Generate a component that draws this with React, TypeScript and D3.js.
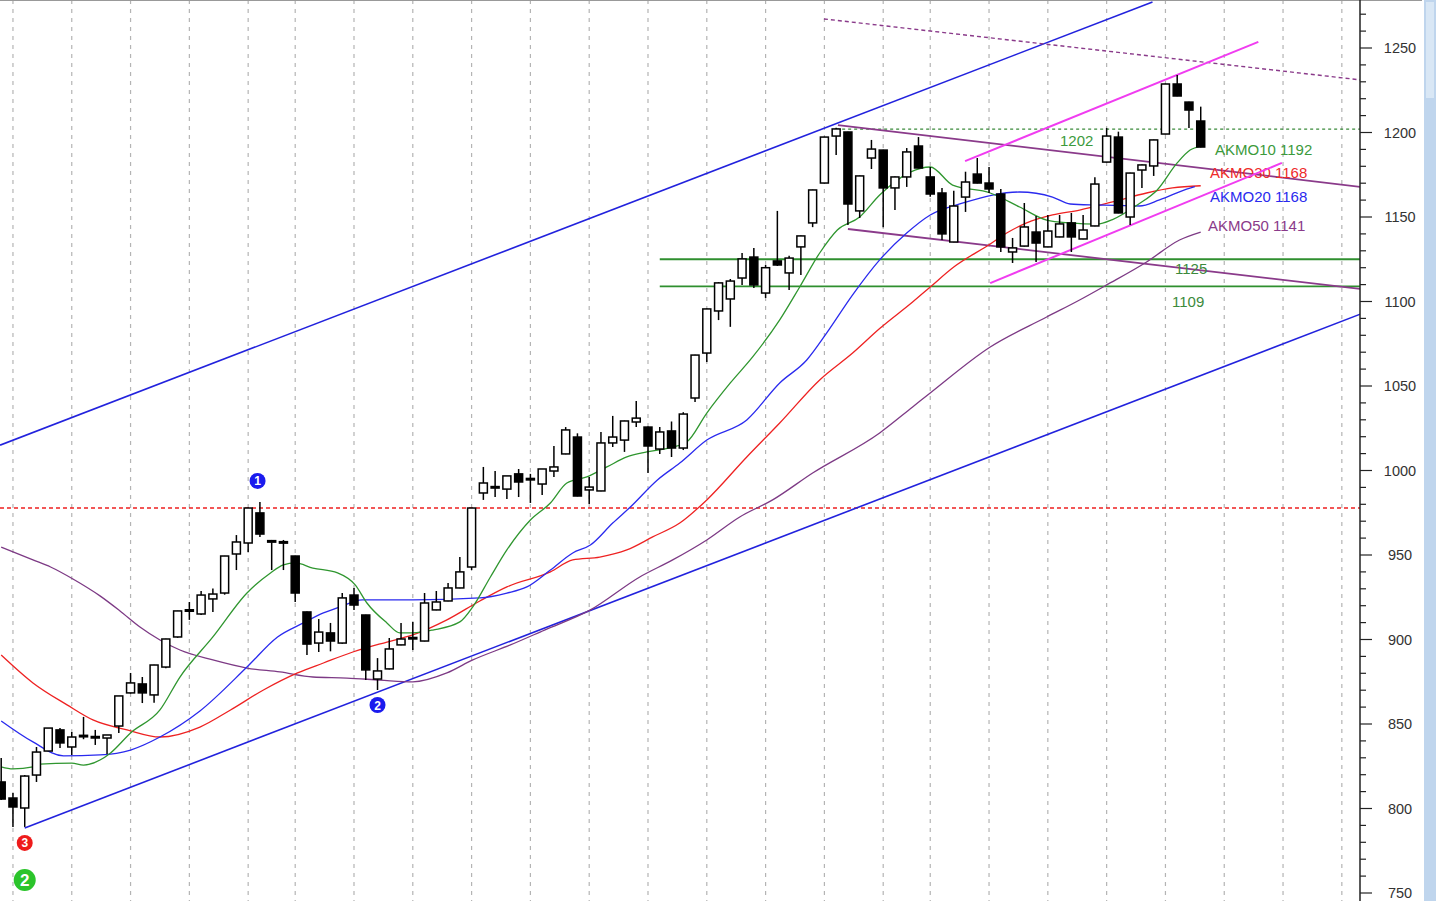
import React from 'react';
import * as d3 from 'd3';

// OHLC (index 0 = left edge candle)
const opens = [815.7,806.2,800.3,819.8,834,846.5,836.4,842.5,842.5,841.7,848.8,868.4,873.7,867.2,883.7,901.5,917.5,915.1,924,927.5,950.6,957.1,974.9,958.3,957.7,949.4,916.3,897.9,903.9,897.9,926.3,914.5,876.6,882.6,896.8,900.9,899.1,917.5,922.8,930.5,942.9,986.7,990.2,989,998,995,992,999.7,1009.8,1019.8,988.5,987.9,1016.3,1018,1028.7,1025.7,1012.7,1023.4,1013.3,1042.9,1069.5,1094.4,1101.5,1113.9,1126.3,1105,1124,1116.9,1132.3,1146.5,1170.1,1197.9,1200.3,1153.6,1184.9,1189.6,1167.2,1173.7,1192,1173.7,1164.2,1135.2,1161.8,1175.4,1170.1,1163.6,1129.3,1132.8,1141.1,1132.3,1138.2,1146.5,1137,1144.7,1182.5,1197.3,1150,1177.8,1180.2,1199.1,1228.7,1218,1206.8];
const highs = [829.9,809.2,819.8,836.4,847.6,847.6,845.3,854.2,846.5,843.5,866.6,880.2,877.8,885,900.5,917,922.2,928.7,930.2,949.5,961.8,978,981.4,958.9,958.9,949.6,916.5,912.1,909.8,927.5,930.5,914.7,889,900.9,909.8,910.4,927.5,928.7,933.4,948.8,977.8,1002.1,999.7,996.8,1000.9,998,1000.9,1014.5,1025.7,1022,996.2,1022.8,1032.3,1029.5,1041.1,1026,1025.7,1029,1034.5,1068.5,1095.8,1111.5,1113.3,1128.7,1131.7,1121.6,1153.6,1127,1139,1166.2,1197.5,1202.8,1200.5,1174.5,1195.6,1189.8,1173.9,1190.8,1197.3,1179.6,1167.2,1165.5,1176.8,1184.9,1179.6,1166.6,1137.6,1158.3,1150.6,1151.2,1151.2,1152.4,1151.2,1173.5,1202.7,1200.5,1176.2,1181,1195.8,1228.9,1234,1218.2,1215.3];
const lows = [805,789.1,789.1,815.7,834,835.8,831.7,841,837.6,832.3,844.7,868,862.4,862.6,883,901,911.6,914.5,916.3,926.5,941.1,951.8,960.7,941.1,941.1,922.2,890.8,892.6,893,897.5,917.5,876,870.1,882.3,896.6,893.8,898.9,917.3,922.6,930.3,941.1,982.6,984.3,983.2,984.3,980.8,985.5,996.2,1009.6,984.7,980.2,987.7,1013.9,1011,1025.7,998.5,1009.8,1008,1012.1,1040.5,1064.2,1089,1085,1109.8,1108,1102.1,1121,1106.8,1115.7,1144,1169.9,1186.7,1145.3,1149.4,1178.4,1144,1154.1,1167.8,1178.8,1162,1136.4,1135,1153,1169.9,1164.2,1129.3,1122.8,1132.6,1123.4,1132.1,1138,1129.3,1136.8,1144.5,1182.3,1152.2,1145.3,1167.2,1174.3,1198.9,1221.4,1202.7,1191.2];
const closes = [805.6,800.9,819.2,833.4,847.6,838.8,842.3,843.3,842.6,843.5,866.6,874.3,868.4,884.9,900.3,916.9,917.6,926.3,926.9,949.4,957.7,977.8,962.4,958.5,957.9,927.5,897.3,904.4,899.1,924.6,920.4,882,881.4,894.4,900.3,901.2,921.6,922.2,930.5,940,977.8,992.6,990.5,996.8,993.2,995.3,1000.9,1002.1,1024,984.9,990.2,1016.3,1019.8,1029.3,1031,1014.5,1022.8,1013.3,1033.4,1068.3,1095.6,1111,1112.1,1125.2,1109.8,1120,1121.6,1125.7,1138.8,1166,1197.3,1202.1,1157.7,1174.3,1190.2,1167.2,1173.7,1188.5,1179,1163.6,1140,1156.5,1170.7,1170.1,1166.6,1132.3,1131.7,1144.1,1134.6,1141.7,1145.9,1138.2,1142.3,1169.5,1197.9,1152.4,1176,1180.8,1195.6,1228.7,1221.6,1213.3,1191.4];

// candle indices where a new week starts (vertical dashed gridlines)
const weekStarts = [1,6,11,16,21,25,30,35,40,45,50,55,60,65,70,75,79,84,89,94,99,104,109,114];
const priceTicks = [750,800,850,900,950,1000,1050,1100,1150,1200,1250];

// moving averages: [candle index, price]
const akmo10: [number, number][] = [[0,824.6],[1,823.4],[2.7,824.6],[3.3,826.3],[6,826.9],[7,825.7],[8.4,828.7],[9.3,832.9],[11,844.7],[13.5,858.3],[15.2,877.8],[18,901.5],[20.9,927.5],[22.9,939.4],[24,944.1],[25,945.3],[26.5,942.3],[28.6,939.4],[30.1,932.3],[31.1,921.6],[32.8,909.8],[33.9,903.9],[35,903.9],[36.7,905.6],[39,910.4],[40.1,919.3],[41.6,937],[43,953],[45,970.7],[46.7,980.8],[48.1,992.6],[49.8,996.2],[51.5,1002.1],[53.2,1008],[54.9,1011],[57.1,1013.9],[58.3,1016.9],[60,1034],[62,1051.8],[63.9,1067.2],[66.2,1089.1],[67.9,1108.6],[69.6,1128.7],[71.1,1142.3],[73,1150],[74.7,1163],[77.3,1176.6],[79,1179.6],[80.9,1168.9],[84.1,1164.2],[86.6,1155.9],[88.9,1148.2],[90.9,1146.5],[93.2,1145.8],[94.5,1148.5],[96.6,1157.1],[98.3,1166],[100,1182],[101.1,1189.6],[102,1192]];
const akmo20: [number, number][] = [[0,851.8],[2.7,839.4],[5.3,831.1],[8.4,831.7],[11,834.6],[13.5,842.3],[16.9,857.7],[20.9,883.7],[23.5,901.5],[25.7,909.8],[27.4,915.7],[28.8,919.3],[30.7,923.4],[35,923.4],[40.7,924.6],[43,927.5],[44.7,931.1],[46.7,941.1],[48.6,951.2],[50.1,955.9],[52,968.9],[53.5,978.4],[55.8,994.4],[57.7,1004.4],[60,1018],[63.4,1029.9],[66.2,1051.8],[68.5,1065.4],[70.2,1081.4],[72.4,1103.9],[74.7,1124.6],[77,1140.5],[79,1151.2],[81.8,1158.3],[84.3,1163],[86.6,1164.8],[89.4,1161.8],[90.9,1157.7],[93.2,1157.1],[96.8,1156.5],[98.5,1160.1],[100.8,1166.5],[101.5,1168]];
const akmo30: [number, number][] = [[0,890.8],[2.7,874.3],[5.6,861.3],[7.8,852.4],[10.7,846.5],[13.5,842.3],[16.9,848.2],[19.5,858.3],[22.3,870.1],[25.2,880.2],[27.4,886.1],[29.9,892.6],[32.8,898.5],[35,902.7],[37.9,911.6],[40.7,922.8],[43,931.1],[46.7,940],[48.6,947.1],[50.9,948.8],[53.2,953],[55.4,960.7],[57.7,968.9],[60,982.6],[63.4,1008],[66.2,1028.1],[69.6,1053.6],[72.4,1069.5],[74.7,1084],[77.5,1099.7],[79,1108.6],[81,1120.4],[84.1,1134],[85.5,1140.5],[87.2,1146.5],[89.4,1151.2],[91.7,1154.1],[94.5,1158.9],[97.4,1164.2],[99.6,1167.2],[102,1168.5]];
const akmo50: [number, number][] = [[0,954.7],[2.7,947.1],[4.2,942.9],[6.1,935.8],[8.4,925.8],[10.1,916.9],[11.8,907.4],[13.5,899.7],[15.2,893.8],[18,887.9],[20.9,883.1],[23.7,880.8],[26.5,877.8],[29.4,877.2],[32.2,876],[35,874.9],[37.9,880.2],[40.1,887.9],[43.3,896.8],[46.2,905.6],[50.1,917.5],[54.3,937],[57.1,947.1],[60,958.9],[62.8,972.5],[65.6,982.6],[69,998.5],[74.7,1022.2],[77.5,1037.6],[79,1045.9],[84.1,1073.1],[88.9,1090.8],[91.7,1100.9],[94,1109.8],[97.4,1123.4],[100.2,1136.4],[102,1141.1]];

// drawn trend lines: [startIndex, startPrice, endIndex, endPrice]
const blueUpper = [-0.1, 1015, 97.9, 1277.2];
const blueLower = [2.0, 788.5, 115.6, 1092.6];
const purpleUpper = [71.15, 1204.4, 115.6, 1167.8];
const purpleLower = [72.0, 1142.9, 115.6, 1107.4];
const purpleDotted = [69.96, 1267.2, 115.6, 1231.1];
const magentaUpper = [81.96, 1183.1, 106.9, 1253.6];
const magentaLower = [84.1, 1110.9, 108.9, 1182];
const redLevel = 977.8;
const greenLevel = 1202;
const supportLevels = [1125, 1109];

const W = 1436, H = 901, AXIS_X = 1360;
const FONT = '"Liberation Sans", Arial, sans-serif';

export default function App() {
  const x = d3.scaleLinear().domain([0, 100]).range([1.2, 1177.2]);
  const y = d3.scaleLinear().domain([750, 1250]).range([893, 48]);
  const maLine = d3.line<[number, number]>().x(d => x(d[0])).y(d => y(d[1])).curve(d3.curveMonotoneX);
  const seg = (s: number[]) => ({ x1: x(s[0]), y1: y(s[1]), x2: x(s[2]), y2: y(s[3]) });
  const idxMax = (AXIS_X - 1.2) / 11.76;
  const minorTicks = d3.range(750, 1271, 10);

  return (
    <svg width={W} height={H} style={{ position: 'absolute', left: 0, top: 0, background: '#fff' }} fontFamily={FONT}>
      <defs>
        <clipPath id="plot"><rect x={0} y={0} width={AXIS_X} height={H} /></clipPath>
      </defs>
      <rect x={0} y={0} width={W} height={H} fill="#fff" />
      <g clipPath="url(#plot)">
        {weekStarts.map(i => (
          <line key={i} x1={x(i)} x2={x(i)} y1={0} y2={H} stroke="#b4b4b4" strokeWidth={1.2} strokeDasharray="4,5" />
        ))}
        {/* horizontal levels */}
        <line x1={0} x2={AXIS_X} y1={y(redLevel)} y2={y(redLevel)} stroke="#ee2020" strokeWidth={1.3} strokeDasharray="4,3" />
        <line x1={x(71)} x2={AXIS_X} y1={y(greenLevel)} y2={y(greenLevel)} stroke="#3a8a3a" strokeWidth={1.2} strokeDasharray="3,3" />
        {supportLevels.map(l => (
          <line key={l} x1={x(56)} x2={AXIS_X} y1={y(l)} y2={y(l)} stroke="#2f8f2f" strokeWidth={1.8} />
        ))}
        {/* trend lines */}
        <line {...seg(blueUpper)} stroke="#2222dd" strokeWidth={1.6} />
        <line {...seg(blueLower)} stroke="#2222dd" strokeWidth={1.6} />
        <line {...seg(purpleDotted)} stroke="#8a3a8a" strokeWidth={1.4} strokeDasharray="4,3" />
        <line {...seg(purpleUpper)} stroke="#8a3a8a" strokeWidth={1.8} />
        <line {...seg(purpleLower)} stroke="#8a3a8a" strokeWidth={1.8} />
        {/* moving averages */}
        <path d={maLine(akmo50) || ''} fill="none" stroke="#7d3a85" strokeWidth={1.3} />
        <path d={maLine(akmo30) || ''} fill="none" stroke="#ee2222" strokeWidth={1.3} />
        <path d={maLine(akmo20) || ''} fill="none" stroke="#2a2aee" strokeWidth={1.3} />
        <path d={maLine(akmo10) || ''} fill="none" stroke="#2f962f" strokeWidth={1.3} />
        {/* labels */}
        <text x={1060} y={146} fontSize={15} fill="#3c9a3c">1202</text>
        <text x={1215} y={155} fontSize={15} fill="#3c9a3c">AKMO10 1192</text>
        <text x={1210} y={178} fontSize={15} fill="#ee2a2a">AKMO30 1168</text>
        <text x={1210} y={202} fontSize={15} fill="#2a2aee">AKMO20 1168</text>
        <text x={1208} y={231} fontSize={15} fill="#8a3a8a">AKMO50 1141</text>
        <text x={1175} y={274} fontSize={15} fill="#3c8a3c">1125</text>
        <text x={1172} y={307} fontSize={15} fill="#3c8a3c">1109</text>
        <line {...seg(magentaUpper)} stroke="#f03cf0" strokeWidth={2} />
        <line {...seg(magentaLower)} stroke="#f03cf0" strokeWidth={2} />
        {/* candles */}
        {closes.map((c, i) => {
          const o = opens[i];
          const up = c >= o;
          const cx = x(i);
          const top = y(Math.max(o, c));
          const bot = y(Math.min(o, c));
          const h = Math.max(bot - top, 1.5);
          return (
            <g key={i}>
              <line x1={cx} x2={cx} y1={y(highs[i])} y2={y(lows[i])} stroke="#000" strokeWidth={1.5} />
              <rect x={cx - 4} y={top} width={8} height={h} fill={up ? '#fff' : '#000'} stroke="#000" strokeWidth={1.5} />
            </g>
          );
        })}
        {/* markers */}
        <circle cx={x(21.8)} cy={y(highs[22]) - 21} r={8} fill="#1b1bee" />
        <text x={x(21.8)} y={y(highs[22]) - 16.5} fontSize={12} fontWeight="bold" fill="#fff" textAnchor="middle">1</text>
        <circle cx={x(32)} cy={y(lows[32]) + 15} r={8} fill="#1b1bee" />
        <text x={x(32)} y={y(lows[32]) + 19.5} fontSize={12} fontWeight="bold" fill="#fff" textAnchor="middle">2</text>
        <circle cx={x(2)} cy={y(lows[2]) + 16} r={8} fill="#ee1b1b" />
        <text x={x(2)} y={y(lows[2]) + 20.5} fontSize={12} fontWeight="bold" fill="#fff" textAnchor="middle">3</text>
        <circle cx={x(2)} cy={y(lows[2]) + 53} r={11} fill="#2bc42b" />
        <text x={x(2)} y={y(lows[2]) + 59} fontSize={17} fontWeight="bold" fill="#fff" textAnchor="middle">2</text>
      </g>
      {/* top border */}
      <line x1={0} x2={1422} y1={0.5} y2={0.5} stroke="#999" strokeWidth={1} />
      {/* price axis */}
      <line x1={AXIS_X} x2={AXIS_X} y1={0} y2={H} stroke="#222" strokeWidth={1.5} />
      {minorTicks.map(t => (
        <line key={t} x1={AXIS_X} x2={AXIS_X + (t % 50 === 0 ? 12 : 6)} y1={y(t)} y2={y(t)} stroke="#222" strokeWidth={1.2} />
      ))}
      {priceTicks.map(t => (
        <text key={t} x={1400} y={y(t) + 5} fontSize={14.5} fill="#333" textAnchor="middle">{t}</text>
      ))}
      {/* scrollbar */}
      <rect x={1424} y={0} width={12} height={H} fill="#bfd5ed" />
      <rect x={1426} y={2} width={8} height={96} fill="#d9e7f5" />
      {idxMax > 0 ? null : null}
    </svg>
  );
}
